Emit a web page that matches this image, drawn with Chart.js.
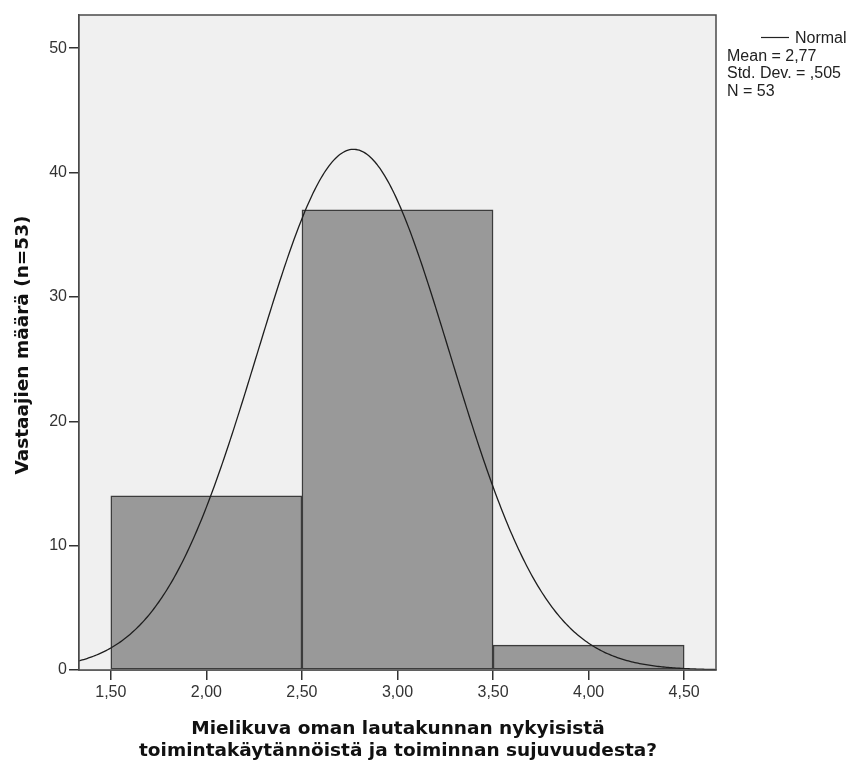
<!DOCTYPE html>
<html>
<head>
<meta charset="utf-8">
<script src="https://cdn.jsdelivr.net/npm/chart.js"></script>
<style>
  html, body { margin: 0; padding: 0; background: #fff; }
  #wrap { width: 848px; height: 762px; }
</style>
</head>
<body>
<div id="wrap"><canvas id="histChart" width="848" height="762"></canvas></div>
<script>
  // Histogram data: bin midpoints and counts
  const binCenters = [2, 3, 4];
  const binCounts = [14, 37, 2];

  // Fitted normal curve parameters
  const normalMean = 2.77;
  const normalSd = 0.505;
  const sampleN = 53;
  const binWidth = 1;

  // Axis ticks
  const xTickValues = [1.5, 2.0, 2.5, 3.0, 3.5, 4.0, 4.5];
  const xTickLabels = ['1,50', '2,00', '2,50', '3,00', '3,50', '4,00', '4,50'];
  const yTickValues = [0, 10, 20, 30, 40, 50];

  const xMin = 1.3335, xMax = 4.6665;
  const yMax = 52.67;

  const FONT = '"Liberation Sans", Arial, sans-serif';
  const TITLE_FONT = '"DejaVu Sans", Verdana, sans-serif';

  // normal density scaled to counts
  const curvePoints = [];
  for (let i = 0; i <= 400; i++) {
    const x = xMin + (xMax - xMin) * i / 400;
    const z = (x - normalMean) / normalSd;
    const y = sampleN * binWidth / (normalSd * Math.sqrt(2 * Math.PI)) * Math.exp(-0.5 * z * z);
    curvePoints.push({ x: x, y: y });
  }

  const plotFrame = {
    id: 'plotFrame',
    beforeDatasetsDraw(chart) {
      const { ctx, chartArea: a } = chart;
      ctx.save();
      ctx.fillStyle = '#f0f0f0';
      ctx.fillRect(a.left, a.top, a.right - a.left, a.bottom - a.top);
      ctx.restore();
    },
    afterDraw(chart) {
      const { ctx, chartArea: a } = chart;
      ctx.save();
      ctx.strokeStyle = '#4a4a4a';
      ctx.lineWidth = 1.5;
      ctx.strokeRect(a.left, a.top, a.right - a.left, a.bottom - a.top);

      // axis titles
      ctx.fillStyle = '#111';
      ctx.font = 'bold 18.5px ' + TITLE_FONT;
      ctx.textAlign = 'center';
      ctx.textBaseline = 'middle';
      ctx.fillText('Mielikuva oman lautakunnan nykyisistä', 398, 729);
      ctx.fillText('toimintakäytännöistä ja toiminnan sujuvuudesta?', 398, 751);

      ctx.save();
      ctx.translate(23, 345);
      ctx.rotate(-Math.PI / 2);
      ctx.fillText('Vastaajien määrä (n=53)', 0, 0);
      ctx.restore();

      // legend
      ctx.strokeStyle = '#222';
      ctx.lineWidth = 1.2;
      ctx.beginPath();
      ctx.moveTo(761, 37.5);
      ctx.lineTo(789, 37.5);
      ctx.stroke();
      ctx.font = '16px ' + FONT;
      ctx.textAlign = 'left';
      ctx.fillStyle = '#222';
      ctx.fillText('Normal', 795, 39);
      ctx.fillText('Mean = 2,77', 727, 56.5);
      ctx.fillText('Std. Dev. = ,505', 727, 74);
      ctx.fillText('N = 53', 727, 91.5);
      ctx.restore();
    }
  };

  new Chart(document.getElementById('histChart'), {
    type: 'bar',
    data: {
      datasets: [
        {
          type: 'line',
          label: 'Normal',
          data: curvePoints,
          borderColor: '#1e1e1e',
          borderWidth: 1.3,
          pointRadius: 0,
          tension: 0,
          fill: false,
          order: 0
        },
        {
          type: 'bar',
          label: 'Frequency',
          data: binCenters.map((c, i) => ({ x: c, y: binCounts[i] })),
          backgroundColor: '#999999',
          borderColor: '#3c3c3c',
          borderWidth: 1.5,
          borderSkipped: false,
          barThickness: 'flex',
          barPercentage: 1,
          categoryPercentage: 1,
          order: 1
        }
      ]
    },
    options: {
      responsive: false,
      animation: false,
      layout: { padding: { left: 0, top: 15, right: 132, bottom: 0 } },
      plugins: {
        legend: { display: false },
        tooltip: { enabled: false }
      },
      scales: {
        x: {
          type: 'linear',
          min: xMin,
          max: xMax,
          offset: false,
          afterFit: s => { s.height = 92; },
          afterBuildTicks: s => { s.ticks = xTickValues.map(v => ({ value: v })); },
          grid: { offset: false, drawOnChartArea: false, drawTicks: true, tickLength: 10, color: '#333', lineWidth: 1.5 },
          border: { display: true, color: '#4a4a4a', width: 1.5 },
          ticks: {
            padding: 3,
            color: '#333',
            font: { family: FONT, size: 16 },
            maxRotation: 0,
            autoSkip: false,
            callback: v => xTickLabels[xTickValues.indexOf(Math.round(v * 100) / 100)]
          }
        },
        y: {
          min: 0,
          max: yMax,
          afterFit: s => { s.width = 79; },
          afterBuildTicks: s => { s.ticks = yTickValues.map(v => ({ value: v })); },
          grid: { drawOnChartArea: false, drawTicks: true, tickLength: 10, color: '#333', lineWidth: 1.5 },
          border: { display: true, color: '#4a4a4a', width: 1.5 },
          ticks: {
            padding: 2,
            color: '#333',
            font: { family: FONT, size: 16 }
          }
        }
      }
    },
    plugins: [plotFrame]
  });
</script>
</body>
</html>
